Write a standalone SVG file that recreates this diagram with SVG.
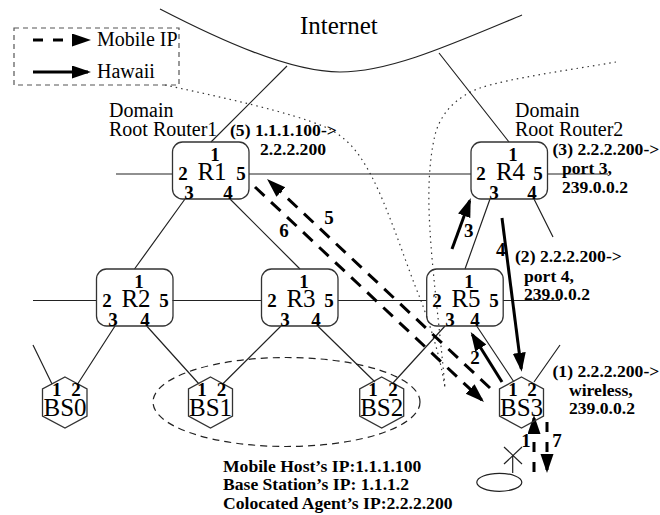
<svg xmlns="http://www.w3.org/2000/svg" width="660" height="515" viewBox="0 0 660 515">
<style>
text{font-family:"Liberation Serif","Times New Roman",serif;fill:#000}
.b{font-weight:bold;font-size:17.6px}
.d{font-weight:bold;font-size:19px;text-anchor:middle}
.n{font-size:25px;text-anchor:middle}
.t{font-size:20px}
.box{fill:none;stroke:#333;stroke-width:1.3}
.l{fill:none;stroke:#222;stroke-width:1.2}
.dot{fill:none;stroke:#333;stroke-width:1.2;stroke-dasharray:1.5 4}
.da{fill:none;stroke:#000;stroke-width:3;stroke-dasharray:13 9;marker-end:url(#h)}
.so{fill:none;stroke:#000;stroke-width:3;marker-end:url(#h)}
</style>
<defs>
<marker id="h" markerUnits="userSpaceOnUse" markerWidth="20" markerHeight="14" refX="16" refY="6.5" orient="auto"><path d="M0,0L19,6.5L0,13z" fill="#000"/></marker>
</defs>
<rect width="660" height="515" fill="#fff"/>
<g id="connectors">
<path class="l" d="M160 9C220 40 290 72 340 72C390 72 450 45 522 15"/>
<path class="dot" d="M165 85C225 98 290 112 325 127C350 138 362 158 372 177C390 212 408 270 420 298C430 325 440 355 445 388"/>
<path class="dot" d="M616 62C570 70 510 78 480 88C455 97 440 115 435 135C428 165 428 200 430 230C432 270 440 330 445 388"/>
<ellipse cx="286.5" cy="402" rx="133.5" ry="44.5" fill="none" stroke="#222" stroke-width="1.2" stroke-dasharray="7 5"/>
<path class="l" d="M211 142L287 66M509 142L439 53M116 174H172.500M249 174H471M547 174H608M185 199L134.500 269M230 199L300 269M490 199L465 269M534 199L553 237M33 300.500H96.500M172.500 300.500H261.500M338 300.500H426.700M503 300.500H560M115 326L77 385M146.700 326L199 384M281 326L222.700 384M317.700 326L375 382M445 326L393 383M476.700 326L514 382M534 382L560 345M33 345L52 384"/>
<path class="da" d="M490 388L269.200 181.100"/>
<path class="da" d="M255 187L481.800 400"/>
<path class="so" d="M452 249L469.700 200.800"/>
<path class="so" d="M502 218L521.300 368.700"/>
<path class="so" d="M502 382L472.300 334.500"/>
<path class="so" d="M534 434V418"/>
<path class="da" style="stroke-dasharray:10 10;marker-end:none" d="M534 472V434"/>
<path class="da" style="stroke-dasharray:10 10" d="M547 422V470"/>
</g>
<g id="legend">
<rect x="14" y="28" width="165" height="57" fill="none" stroke="#555" stroke-width="1.2" stroke-dasharray="5 4"/>
<path class="da" style="stroke-dasharray:10 10" d="M33 40H88"/>
<path class="so" d="M33 72H88"/>
<text class="t" x="97" y="46">Mobile IP</text>
<text class="t" x="97" y="78">Hawaii</text>
</g>
<g id="internet"><text x="300" y="34" font-size="25">Internet</text></g>
<g id="label-root1"><text class="t" x="109" y="117">Domain</text><text class="t" x="109" y="136">Root Router1</text></g>
<g id="label-root2"><text class="t" x="515" y="117">Domain</text><text class="t" x="515" y="136">Root Router2</text></g>
<g id="R1"><rect class="box" x="172.500" y="142" width="76.500" height="57" rx="10"/><text class="n" x="212" y="180">R1</text><text class="d" x="215" y="161">1</text><text class="d" x="183" y="180">2</text><text class="d" x="241" y="180">5</text><text class="d" x="189" y="199">3</text><text class="d" x="228" y="199">4</text></g>
<g id="R4"><rect class="box" x="471" y="142" width="76.500" height="57" rx="10"/><text class="n" x="510.500" y="180">R4</text><text class="d" x="513" y="161">1</text><text class="d" x="481" y="180">2</text><text class="d" x="538" y="180">5</text><text class="d" x="494" y="199">3</text><text class="d" x="532" y="199">4</text></g>
<g id="R2"><rect class="box" x="96.500" y="269" width="76.500" height="57" rx="10"/><text class="n" x="136" y="307">R2</text><text class="d" x="139" y="288">1</text><text class="d" x="107" y="307">2</text><text class="d" x="164" y="307">5</text><text class="d" x="113" y="326">3</text><text class="d" x="145" y="326">4</text></g>
<g id="R3"><rect class="box" x="261.500" y="269" width="76.500" height="57" rx="10"/><text class="n" x="301" y="307">R3</text><text class="d" x="304" y="288">1</text><text class="d" x="272" y="307">2</text><text class="d" x="329" y="307">5</text><text class="d" x="285" y="326">3</text><text class="d" x="316" y="326">4</text></g>
<g id="R5"><rect class="box" x="426.700" y="269" width="76.500" height="57" rx="10"/><text class="n" x="466" y="307">R5</text><text class="d" x="469" y="288">1</text><text class="d" x="437" y="307">2</text><text class="d" x="494" y="307">5</text><text class="d" x="450" y="326">3</text><text class="d" x="475" y="326">4</text></g>
<g id="BS0"><path class="box" d="M65 377L87 389V416L65 428L42.500 416V389z"/><text class="d" x="56.700" y="396">1</text><text class="d" x="76" y="396">2</text><text class="n" x="65" y="416">BS0</text></g>
<g id="BS1"><path class="box" d="M210.500 377L232.500 389V416L210.500 428L188.500 416V389z"/><text class="d" x="202" y="396">1</text><text class="d" x="221.500" y="396">2</text><text class="n" x="210.500" y="416">BS1</text></g>
<g id="BS2"><path class="box" d="M381.700 377L403.700 389V416L381.700 428L359.700 416V389z"/><text class="d" x="373" y="396">1</text><text class="d" x="393" y="396">2</text><text class="n" x="381.700" y="416">BS2</text></g>
<g id="BS3"><path class="box" d="M521.500 377L543.500 389V416L521.500 428L499.500 416V389z"/><text class="d" x="513" y="396">1</text><text class="d" x="532" y="396">2</text><text class="n" x="521.500" y="416">BS3</text></g>
<g id="mobile-host"><path class="l" d="M504 447L522 464M504 464L522 447M512.700 455V473"/><ellipse cx="499.300" cy="482.300" rx="22.500" ry="9" fill="#fff" stroke="#222" stroke-width="1.2"/></g>
<g id="labels">
<text class="b" x="230" y="136">(5) 1.1.1.100-&gt;</text><text class="b" x="260" y="155">2.2.2.200</text>
<text class="b" x="552.500" y="155">(3) 2.2.2.200-&gt;</text><text class="b" x="562" y="174">port 3,</text><text class="b" x="562" y="193">239.0.0.2</text>
<text class="b" x="515" y="262">(2) 2.2.2.200-&gt;</text><text class="b" x="524" y="282">port 4,</text><text class="b" x="524" y="300">239.0.0.2</text>
<text class="b" x="552.500" y="377">(1) 2.2.2.200-&gt;</text><text class="b" x="569" y="396">wireless,</text><text class="b" x="569" y="414">239.0.0.2</text>
<text class="b" x="223" y="472">Mobile Host’s IP:1.1.1.100</text><text class="b" x="223" y="490">Base Station’s IP: 1.1.1.2</text><text class="b" x="223" y="509">Colocated Agent’s IP:2.2.2.200</text>
<text class="d" x="329" y="224">5</text><text class="d" x="284" y="237">6</text><text class="d" x="468.700" y="237">3</text><text class="d" x="500.700" y="256">4</text><text class="d" x="475" y="364">2</text><text class="d" x="526" y="447">1</text><text class="d" x="557" y="447">7</text>
</g>
</svg>
